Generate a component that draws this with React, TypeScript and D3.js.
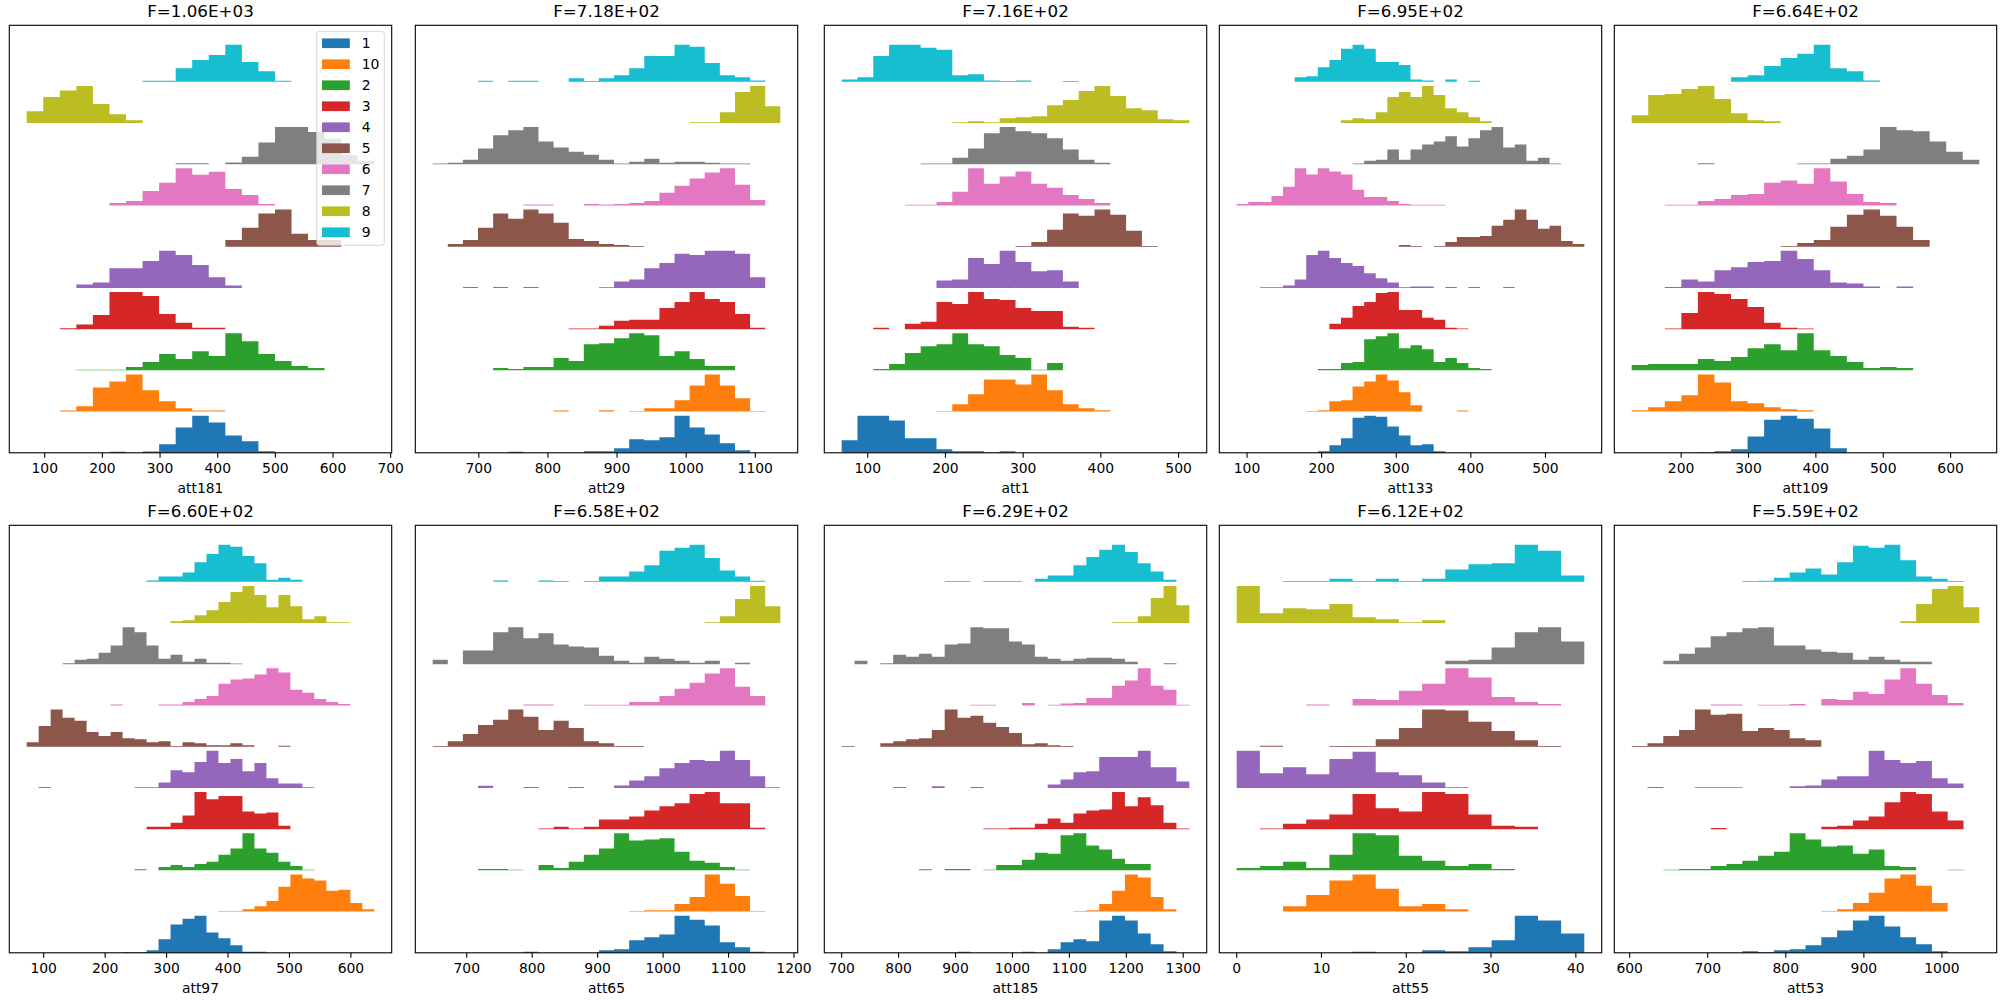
import React from 'react';
import * as d3 from 'd3';

const classLabels = ['1', '10', '2', '3', '4', '5', '6', '7', '8', '9'];
const classColors = ['#1f77b4', '#ff7f0e', '#2ca02c', '#d62728', '#9467bd', '#8c564b', '#e377c2', '#7f7f7f', '#bcbd22', '#17becf'];

const features = ['att181', 'att29', 'att1', 'att133', 'att109', 'att97', 'att65', 'att185', 'att55', 'att53'];
const fScores = ['1.06E+03', '7.18E+02', '7.16E+02', '6.95E+02', '6.64E+02', '6.60E+02', '6.58E+02', '6.29E+02', '6.12E+02', '5.59E+02'];

// [min, max, number of bins] per feature
const binRanges: [number, number, number][] = [
  [68.7, 671.6, 21],
  [633.3, 1136.2, 23],
  [66.5, 513.8, 22],
  [86.1, 552.1, 30],
  [126.6, 642.6, 21],
  [72.3, 638.1, 29],
  [648, 1179.1, 23],
  [700, 1310.7, 27],
  [0, 41, 15],
  [602.6, 1047.9, 22],
];

const tickValues = [
  [100, 200, 300, 400, 500, 600, 700],
  [700, 800, 900, 1000, 1100],
  [100, 200, 300, 400, 500],
  [100, 200, 300, 400, 500],
  [200, 300, 400, 500, 600],
  [100, 200, 300, 400, 500, 600],
  [700, 800, 900, 1000, 1100, 1200],
  [700, 800, 900, 1000, 1100, 1200, 1300],
  [0, 10, 20, 30, 40],
  [600, 700, 800, 900, 1000],
];

// per class (order 1,10,2,3,4,5,6,7,8,9): [first bin index, bin counts]
type Hist = [number, number[]][];

const hist_att181: Hist = [
  [5, [3, 0, 4, 26, 77, 113, 92, 53, 35, 5]],
  [2, [3, 16, 73, 91, 112, 64, 31, 10, 3, 3]],
  [3, [2, 2, 2, 10, 25, 49, 34, 58, 43, 112, 88, 49, 28, 13, 7]],
  [2, [3, 14, 43, 112, 112, 100, 46, 19, 4, 4]],
  [3, [10, 16, 58, 58, 79, 109, 97, 67, 31, 7]],
  [12, [20, 56, 98, 110, 38, 20, 20]],
  [5, [7, 13, 43, 67, 110, 91, 100, 49, 31, 4]],
  [9, [3, 3, 0, 5, 22, 64, 109, 109, 95, 75, 27, 10]],
  [0, [35, 77, 96, 110, 56, 26, 8]],
  [7, [3, 3, 40, 64, 79, 109, 58, 31, 3]],
];

const hist_att29: Hist = [
  [5, [3, 0, 0, 0, 0, 5, 5, 14, 41, 38, 47, 113, 77, 56, 29, 8]],
  [8, [3, 0, 0, 4, 0, 2, 10, 10, 34, 79, 112, 79, 40, 2]],
  [4, [7, 4, 10, 10, 37, 28, 79, 82, 97, 112, 106, 43, 58, 34, 13, 13]],
  [9, [2, 2, 10, 25, 28, 28, 64, 82, 112, 91, 82, 46, 4]],
  [2, [3, 0, 3, 0, 3, 0, 0, 0, 0, 2, 19, 25, 58, 73, 100, 97, 109, 109, 100, 31]],
  [1, [8, 20, 56, 98, 83, 110, 98, 71, 23, 17, 8, 5, 2]],
  [6, [3, 3, 0, 0, 4, 3, 4, 7, 13, 37, 58, 79, 97, 109, 61, 16]],
  [0, [2, 4, 13, 46, 85, 100, 109, 67, 49, 37, 28, 13, 2, 7, 16, 4, 7, 7, 4, 2, 2]],
  [17, [2, 2, 32, 92, 110, 50]],
  [3, [3, 0, 3, 3, 0, 0, 10, 2, 10, 19, 40, 76, 76, 109, 103, 55, 19, 13, 4]],
];

const hist_att1: Hist = [
  [0, [38, 113, 113, 98, 44, 44, 11, 5, 5, 2, 5]],
  [6, [2, 22, 52, 97, 97, 82, 112, 64, 22, 10, 4]],
  [2, [4, 19, 52, 73, 79, 112, 79, 73, 46, 37, 2, 22]],
  [2, [4, 0, 16, 22, 82, 76, 112, 91, 88, 64, 55, 55, 7, 4]],
  [6, [22, 25, 88, 70, 109, 76, 49, 52, 19]],
  [11, [2, 14, 50, 98, 92, 110, 95, 47, 2]],
  [4, [2, 2, 10, 40, 109, 64, 85, 100, 64, 52, 31, 19, 7]],
  [5, [2, 2, 19, 46, 91, 109, 97, 91, 76, 43, 13, 4]],
  [7, [2, 5, 2, 14, 17, 20, 53, 68, 95, 110, 80, 44, 38, 11, 8]],
  [0, [7, 13, 76, 109, 109, 100, 94, 19, 22, 4, 2, 4, 0, 0, 2]],
];

const hist_att133: Hist = [
  [7, [5, 23, 44, 107, 113, 110, 80, 53, 23, 26, 5]],
  [6, [2, 4, 31, 34, 76, 91, 112, 94, 58, 19, 0, 0, 0, 3]],
  [7, [4, 4, 22, 25, 94, 103, 112, 67, 76, 64, 25, 37, 22, 7, 4]],
  [8, [16, 34, 70, 82, 109, 112, 58, 58, 34, 28, 4, 2]],
  [2, [2, 2, 7, 25, 97, 109, 88, 73, 64, 43, 28, 16, 2, 4, 4, 0, 3, 0, 3, 0, 0, 3]],
  [14, [5, 2, 0, 2, 14, 29, 29, 32, 62, 80, 110, 80, 53, 62, 17, 8]],
  [0, [4, 10, 10, 28, 55, 109, 91, 109, 100, 91, 46, 25, 25, 13, 4, 2, 2, 2]],
  [10, [2, 10, 13, 43, 13, 43, 58, 67, 82, 52, 76, 100, 109, 49, 58, 10, 19, 2]],
  [9, [8, 14, 11, 32, 77, 92, 77, 110, 83, 44, 32, 17, 5]],
  [5, [13, 16, 43, 64, 97, 109, 97, 58, 58, 49, 7, 4, 0, 7, 0, 3]],
];

const hist_att109: Hist = [
  [4, [2, 5, 11, 50, 101, 113, 104, 74, 14]],
  [0, [4, 13, 31, 49, 112, 88, 31, 25, 13, 7, 4]],
  [0, [16, 19, 19, 19, 34, 28, 40, 67, 79, 61, 112, 61, 43, 25, 7, 10, 7]],
  [2, [2, 49, 112, 106, 91, 67, 19, 4, 2]],
  [2, [3, 25, 19, 52, 61, 76, 79, 109, 85, 52, 16, 13, 4, 0, 4]],
  [9, [2, 11, 20, 59, 95, 110, 92, 59, 20]],
  [2, [2, 2, 13, 19, 31, 34, 67, 73, 64, 109, 70, 34, 10, 7]],
  [4, [3, 0, 0, 0, 0, 0, 2, 2, 16, 25, 43, 109, 100, 97, 67, 37, 13]],
  [0, [23, 83, 86, 101, 110, 71, 29, 8, 5]],
  [6, [13, 19, 46, 70, 82, 109, 40, 31, 4]],
];

const hist_att97: Hist = [
  [8, [2, 2, 8, 41, 86, 104, 113, 62, 44, 23, 3, 3]],
  [16, [2, 2, 7, 16, 31, 73, 109, 97, 91, 61, 64, 25, 7]],
  [9, [3, 0, 10, 16, 10, 19, 25, 46, 64, 109, 64, 52, 25, 13, 2]],
  [10, [7, 7, 19, 40, 109, 88, 97, 97, 52, 46, 49, 10]],
  [1, [3, 0, 0, 0, 0, 0, 0, 0, 2, 2, 16, 52, 46, 76, 109, 73, 85, 49, 73, 28, 13, 13, 2]],
  [0, [13, 61, 109, 85, 76, 43, 31, 43, 25, 22, 13, 16, 2, 13, 10, 4, 4, 10, 4, 0, 0, 3]],
  [7, [3, 0, 0, 0, 3, 3, 10, 19, 28, 64, 76, 79, 91, 109, 97, 46, 37, 19, 10, 4]],
  [3, [3, 13, 16, 34, 55, 109, 94, 55, 16, 28, 7, 16, 4, 4, 2]],
  [12, [5, 8, 23, 38, 62, 92, 110, 83, 47, 83, 50, 11, 20, 2, 2]],
  [10, [4, 15, 15, 27, 57, 81, 108, 102, 75, 54, 6, 12, 6]],
];

const hist_att65: Hist = [
  [6, [3, 0, 0, 0, 0, 8, 11, 38, 47, 56, 113, 101, 83, 32, 17, 3]],
  [13, [2, 4, 4, 22, 43, 109, 82, 46, 2]],
  [3, [4, 4, 2, 0, 16, 7, 25, 46, 64, 109, 88, 91, 94, 55, 28, 22, 10, 2]],
  [7, [2, 7, 2, 7, 28, 28, 37, 55, 67, 76, 103, 109, 76, 76, 4]],
  [3, [6, 0, 0, 3, 0, 0, 3, 0, 0, 7, 22, 34, 58, 73, 82, 79, 109, 82, 34, 2]],
  [0, [2, 16, 37, 64, 79, 109, 88, 49, 76, 55, 16, 10, 2, 2]],
  [6, [3, 3, 0, 0, 2, 2, 2, 10, 10, 28, 49, 67, 94, 109, 55, 28]],
  [0, [13, 0, 40, 40, 94, 109, 76, 91, 58, 52, 49, 25, 10, 4, 22, 16, 10, 4, 10, 0, 4]],
  [18, [2, 20, 71, 110, 50]],
  [4, [4, 0, 0, 4, 2, 0, 2, 15, 15, 30, 48, 90, 99, 108, 69, 33, 15, 3]],
];

const hist_att185: Hist = [
  [9, [3, 0, 0, 0, 0, 3, 0, 11, 32, 41, 35, 98, 113, 98, 59, 26, 5]],
  [18, [2, 4, 22, 61, 109, 100, 43, 7]],
  [6, [3, 0, 4, 4, 0, 2, 16, 16, 31, 52, 49, 103, 109, 73, 61, 34, 19, 19]],
  [11, [2, 2, 4, 4, 16, 31, 19, 46, 55, 58, 109, 67, 94, 70, 19, 2]],
  [4, [3, 0, 0, 5, 0, 0, 3, 0, 0, 0, 0, 0, 10, 25, 46, 49, 91, 91, 91, 109, 61, 61, 19]],
  [0, [2, 0, 0, 10, 16, 22, 25, 49, 109, 85, 91, 70, 58, 40, 7, 10, 4, 2]],
  [10, [2, 2, 0, 0, 7, 0, 2, 6, 7, 22, 22, 58, 73, 109, 58, 46, 2]],
  [1, [10, 0, 3, 28, 22, 31, 22, 58, 61, 109, 106, 106, 67, 58, 22, 16, 10, 16, 19, 19, 16, 7, 0, 0, 3]],
  [21, [2, 2, 20, 74, 110, 53]],
  [8, [2, 2, 0, 2, 2, 2, 0, 9, 18, 18, 48, 72, 93, 108, 87, 54, 30, 6]],
];

const hist_att55: Hist = [
  [5, [3, 0, 0, 8, 5, 17, 38, 113, 98, 59]],
  [2, [16, 49, 91, 109, 67, 16, 22, 7]],
  [0, [7, 13, 25, 7, 46, 109, 103, 43, 28, 13, 19, 4]],
  [1, [2, 16, 28, 43, 103, 61, 52, 109, 103, 43, 10, 7]],
  [0, [109, 43, 61, 40, 85, 106, 46, 37, 16, 2]],
  [1, [3, 0, 0, 2, 2, 22, 55, 109, 106, 73, 46, 19, 2]],
  [3, [3, 0, 19, 16, 43, 64, 109, 82, 25, 10, 4]],
  [9, [10, 13, 49, 94, 109, 67]],
  [0, [110, 29, 44, 41, 56, 17, 11, 2, 8]],
  [2, [2, 2, 9, 2, 9, 2, 9, 36, 51, 54, 108, 90, 18]],
];

const hist_att53: Hist = [
  [7, [5, 2, 8, 11, 23, 47, 68, 98, 113, 80, 47, 26, 5]],
  [12, [2, 7, 25, 55, 97, 109, 76, 25]],
  [2, [2, 4, 4, 13, 19, 28, 43, 55, 109, 91, 70, 73, 49, 61, 13, 10, 0, 0, 2]],
  [5, [3, 0, 0, 0, 0, 0, 0, 7, 10, 25, 37, 79, 109, 103, 52, 25]],
  [1, [3, 0, 0, 2, 2, 2, 0, 0, 0, 5, 7, 25, 34, 34, 109, 82, 73, 79, 28, 13]],
  [0, [2, 10, 31, 49, 109, 94, 97, 46, 55, 49, 25, 19]],
  [5, [3, 3, 0, 2, 2, 4, 0, 19, 16, 40, 34, 76, 109, 64, 31, 7]],
  [2, [10, 31, 49, 82, 94, 106, 109, 55, 55, 43, 37, 34, 13, 22, 13, 7, 7]],
  [17, [5, 56, 101, 110, 47]],
  [7, [2, 3, 12, 27, 39, 21, 57, 105, 99, 108, 63, 15, 9, 2]],
];

const histograms: Hist[] = [
  hist_att181, hist_att29, hist_att1, hist_att133, hist_att109,
  hist_att97, hist_att65, hist_att185, hist_att55, hist_att53,
];

const PANEL_LEFT = [9.3, 415.3, 824.3, 1219.3, 1614.3];
const PANEL_TOP = [25.3, 525.3];
const PANEL_W = 382.4;
const PANEL_H = 427.5;
const Y_TOP = 10.37;
const PEAK = 0.9;
const FONT = 'DejaVu Sans, sans-serif';

function Panel({ idx }: { idx: number }) {
  const col = idx % 5;
  const row = Math.floor(idx / 5);
  const left = PANEL_LEFT[col];
  const top = PANEL_TOP[row];
  const [lo, hi, n] = binRanges[idx];
  const R = hi - lo;
  const bw = R / n;
  const x = d3.scaleLinear().domain([lo - 0.05 * R, hi + 0.05 * R]).range([left, left + PANEL_W]);
  const y = d3.scaleLinear().domain([0, Y_TOP]).range([top + PANEL_H, top]);
  const hist = histograms[idx];
  const bottom = top + PANEL_H;

  const paths = hist.map(([start, vals], c) => {
    const mx = d3.max(vals) || 1;
    const p = d3.path();
    vals.forEach((v, j) => {
      if (v <= 0) return;
      const k = start + j;
      const x0 = x(lo + k * bw);
      const x1 = x(lo + (k + 1) * bw);
      const y0 = y(c);
      const y1 = y(c + (PEAK * v) / mx);
      p.rect(x0, y1, x1 - x0, y0 - y1);
    });
    return <path key={c} d={p.toString()} fill={classColors[c]} />;
  });

  return (
    <g>
      {paths}
      <rect x={left} y={top} width={PANEL_W} height={PANEL_H} fill="none" stroke="#000" strokeWidth={1.1} />
      {tickValues[idx].map((t) => (
        <g key={t}>
          <line x1={x(t)} x2={x(t)} y1={bottom} y2={bottom + 4.9} stroke="#000" strokeWidth={1.1} />
          <text x={x(t)} y={bottom + 19.8} textAnchor="middle" fontSize={13.9} fontFamily={FONT} fill="#000">
            {t}
          </text>
        </g>
      ))}
      <text x={left + PANEL_W / 2} y={bottom + 40.2} textAnchor="middle" fontSize={13.9} fontFamily={FONT} fill="#000">
        {features[idx]}
      </text>
      <text x={left + PANEL_W / 2} y={top - 8.8} textAnchor="middle" fontSize={16.7} fontFamily={FONT} fill="#000">
        {'F=' + fScores[idx]}
      </text>
    </g>
  );
}

function Legend() {
  const right = PANEL_LEFT[0] + PANEL_W - 7.4;
  const top = PANEL_TOP[0] + 6;
  const w = 67.6;
  const h = 214;
  const boxX = right - w;
  return (
    <g>
      <rect x={boxX} y={top} width={w} height={h} rx={2.8} fill="#fff" fillOpacity={0.8} stroke="#cccccc" strokeOpacity={0.8} strokeWidth={1} />
      {classLabels.map((lab, i) => {
        const cy = top + 12 + i * 21;
        return (
          <g key={lab}>
            <rect x={boxX + 5.3} y={cy - 4.9} width={27.8} height={9.7} fill={classColors[i]} />
            <text x={boxX + 45} y={cy + 5} fontSize={13.9} fontFamily={FONT} fill="#000">
              {lab}
            </text>
          </g>
        );
      })}
    </g>
  );
}

export default function App() {
  return (
    <div style={{ position: 'absolute', left: 0, top: 0 }}>
      <svg width={2000} height={1000} style={{ display: 'block', background: '#fff' }}>
        <rect x={0} y={0} width={2000} height={1000} fill="#fff" />
        {features.map((_, i) => (
          <Panel key={i} idx={i} />
        ))}
        <Legend />
      </svg>
    </div>
  );
}
